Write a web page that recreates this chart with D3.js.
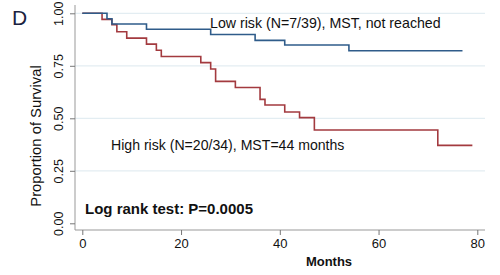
<!DOCTYPE html>
<html><head><meta charset="utf-8">
<script src="https://cdn.jsdelivr.net/npm/d3@7"></script>
<style>body{margin:0;background:#fff}svg{display:block}text{font-family:"Liberation Sans",Arial,sans-serif}</style>
</head><body>
<svg id="c" width="500" height="275"></svg>
<script>
const xTicks = [0, 20, 40, 60, 80];
const yTicks = [0, 0.25, 0.5, 0.75, 1];
const yTickLabels = ["0.00", "0.25", "0.50", "0.75", "1.00"];
const lowTimes = [0, 5, 6, 13, 26, 35, 41, 54, 77];
const lowSurv = [1, 0.974, 0.949, 0.924, 0.899, 0.871, 0.849, 0.822, 0.822];
const highTimes = [0, 4, 6, 7, 9, 13, 15, 16, 24, 26, 27, 31, 36, 37, 41, 44, 47, 72, 79];
const highSurv = [1, 0.971, 0.946, 0.912, 0.882, 0.853, 0.824, 0.794, 0.765, 0.735, 0.676, 0.647, 0.59, 0.563, 0.53, 0.503, 0.444, 0.371, 0.371];
const lowLabel = "Low risk (N=7/39), MST, not reached";
const highLabel = "High risk (N=20/34), MST=44 months";
const testLabel = "Log rank test: P=0.0005";

const svg = d3.select("#c");
const x = d3.scaleLinear().domain([0, 80]).range([82.3, 477.3]);
const y = d3.scaleLinear().domain([0, 1]).range([223.3, 13.3]);
const axisX0 = 75, axisY0 = 230, plotRight = 485, plotTop = 5;

// gridlines
svg.append("g").selectAll("line").data(yTicks.filter(d => d > 0)).join("line")
  .attr("x1", axisX0).attr("x2", plotRight)
  .attr("y1", d => y(d)).attr("y2", d => y(d))
  .attr("stroke", "#e3edf2").attr("stroke-width", 1.2);

// y axis
const yAxis = svg.append("g").attr("transform", `translate(${axisX0},0)`)
  .call(d3.axisLeft(y).tickValues(yTicks).tickFormat((d, i) => yTickLabels[i]).tickSize(5).tickPadding(3));
yAxis.select(".domain").attr("d", `M0,${plotTop}V${axisY0}`).attr("stroke", "#999");
yAxis.selectAll(".tick line").attr("stroke", "#777");
yAxis.selectAll(".tick text").attr("transform", "rotate(-90)").attr("x", 0).attr("y", -12)
  .attr("dy", 0).attr("text-anchor", "middle").attr("font-size", 12.5).attr("fill", "#111");

// x axis
const xAxis = svg.append("g").attr("transform", `translate(0,${axisY0})`)
  .call(d3.axisBottom(x).tickValues(xTicks).tickSize(5).tickPadding(4));
xAxis.select(".domain").attr("d", `M${axisX0},0H${plotRight}`).attr("stroke", "#999");
xAxis.selectAll(".tick line").attr("stroke", "#777");
xAxis.selectAll(".tick text").attr("font-size", 13).attr("fill", "#111");

// titles
svg.append("text").attr("transform", "translate(41,136) rotate(-90)").attr("text-anchor", "middle")
  .attr("font-size", 14.8).attr("fill", "#111").text("Proportion of Survival");
svg.append("text").attr("x", 329).attr("y", 266).attr("text-anchor", "middle")
  .attr("font-size", 13).attr("font-weight", "bold").attr("fill", "#111").text("Months");
svg.append("text").attr("x", 12).attr("y", 25).attr("font-size", 21).attr("fill", "#1b2140").text("D");

// curves
const line = d3.line().x(d => x(d[0])).y(d => y(d[1])).curve(d3.curveStepAfter);
svg.append("path").datum(highTimes.map((t, i) => [t, highSurv[i]])).attr("d", line)
  .attr("fill", "none").attr("stroke", "#a33a3f").attr("stroke-width", 1.6);
svg.append("path").datum(lowTimes.map((t, i) => [t, lowSurv[i]])).attr("d", line)
  .attr("fill", "none").attr("stroke", "#2f5c8a").attr("stroke-width", 1.6);

// annotations
svg.append("text").attr("x", 210).attr("y", 28).attr("font-size", 14.2).attr("fill", "#111").text(lowLabel);
svg.append("text").attr("x", 111).attr("y", 150).attr("font-size", 14.1).attr("fill", "#111").text(highLabel);
svg.append("text").attr("x", 85).attr("y", 214).attr("font-size", 15).attr("font-weight", "bold").attr("fill", "#111").text(testLabel);
</script>
</body></html>
